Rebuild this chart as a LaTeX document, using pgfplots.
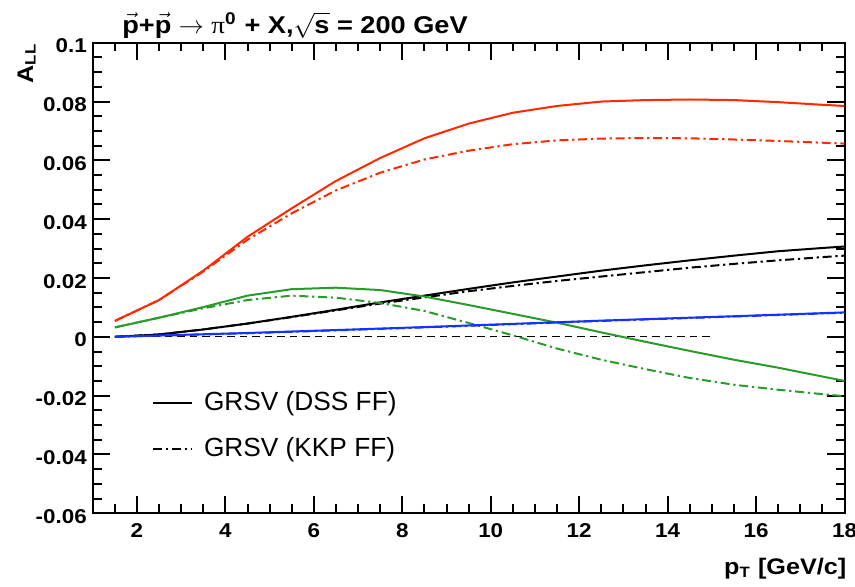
\documentclass[border=0pt]{standalone}
\usepackage{fontspec}
\setmainfont{Liberation Sans}
\newfontfamily\rootfont[FakeStretch=1.12]{Liberation Sans}
\newfontfamily\symfont[FakeStretch=1.12]{Liberation Serif}
\usepackage{pgfplots}
\pgfplotsset{compat=1.18}
\definecolor{cRed}{RGB}{255,40,0}
\definecolor{cGreen}{RGB}{40,155,40}
\definecolor{cBlue}{RGB}{20,50,255}
\tikzset{dashdot/.style={dash pattern=on 3.6pt off 1.5pt on 0.9pt off 1.5pt}}

\begin{document}
\begin{tikzpicture}
\begin{axis}[
    scale only axis,
    clip=false,
    width=300.7pt, height=188.2pt,
    xmin=1, xmax=18, ymin=-0.06, ymax=0.1,
    xtick={2,4,6,8,10,12,14,16,18},
    xticklabels={2,4,6,8,10,12,14,16,18},
    minor xtick={1.5,2.5,3,3.5,4.5,5,5.5,6.5,7,7.5,8.5,9,9.5,10.5,11,11.5,12.5,13,13.5,14.5,15,15.5,16.5,17,17.5},
    ytick={-0.06,-0.04,-0.02,0,0.02,0.04,0.06,0.08,0.1},
    yticklabels={-0.06,-0.04,-0.02,0,0.02,0.04,0.06,0.08,0.1},
    minor ytick={-0.055,-0.05,-0.045,-0.035,-0.03,-0.025,-0.015,-0.01,-0.005,0.005,0.01,0.015,0.025,0.03,0.035,0.045,0.05,0.055,0.065,0.07,0.075,0.085,0.09,0.095},
    major tick length=7pt, minor tick length=3.5pt,
    axis line style={line width=0.8pt},
    every tick/.style={black, line width=0.8pt},
    ticklabel style={font=\rootfont\fontsize{8}{9}\selectfont\bfseries, inner sep=0pt},
    xticklabel style={anchor=north, yshift=-3.8pt},
    yticklabel style={anchor=east, xshift=-2.2pt, yshift=-1.3pt},
    xlabel={p\textsubscript{T} [GeV/c]},
    xlabel style={at={(axis description cs:1.003,-0.131)}, anchor=base east, inner sep=0pt,
        font=\rootfont\fontsize{9}{11}\selectfont\bfseries},
    ylabel={A\textsubscript{LL}},
    ylabel style={at={(axis description cs:-0.088,1)}, anchor=east, inner sep=0pt,
        font=\rootfont\fontsize{9}{11}\selectfont\bfseries},
    legend style={at={(axis cs:2.33,-0.0183)}, anchor=north west, draw=none, fill=none,
        inner sep=0pt, nodes={inner sep=0pt},
        font=\fontsize{10.5}{12}\selectfont, row sep=9.5pt, column sep=4.4pt},
    legend cell align=left,
    legend image code/.code={\draw[#1] (0pt,0pt) -- (15.6pt,0pt);},
]
\coordinate (sw) at (rel axis cs:0,0);
\coordinate (ne) at (rel axis cs:1,1);
% legend entries (black)
\addplot[black, line width=0.8pt] coordinates {
    (1.5,0.0000)(2.5,0.0008)(3.5,0.0025)(4.5,0.0045)(5.5,0.0068)(6.5,0.0092)
    (7.5,0.0117)(8.5,0.0140)(9.5,0.0163)(10.5,0.0185)(11.5,0.0205)(12.5,0.0225)
    (13.5,0.0243)(14.5,0.0260)(15.5,0.0276)(16.5,0.0291)(17.5,0.0302)(18,0.0307)};
\addplot[black, line width=0.8pt, dashdot] coordinates {
    (1.5,0.0000)(2.5,0.0008)(3.5,0.0025)(4.5,0.0045)(5.5,0.0067)(6.5,0.0090)
    (7.5,0.0113)(8.5,0.0134)(9.5,0.0155)(10.5,0.0173)(11.5,0.0190)(12.5,0.0205)
    (13.5,0.0220)(14.5,0.0235)(15.5,0.0248)(16.5,0.0260)(17.5,0.0271)(18,0.0276)};
\legend{GRSV (DSS FF),GRSV (KKP FF)}
% zero line
\addplot[black, line width=0.4pt, dash pattern=on 3pt off 2pt, forget plot] coordinates {(1.5,0)(15,0)};
% red
\addplot[cRed, line width=0.8pt, forget plot] coordinates {
    (1.5,0.0054)(2.5,0.0125)(3.5,0.0225)(4.5,0.0340)(5.5,0.0437)(6.5,0.0530)
    (7.5,0.0608)(8.5,0.0675)(9.5,0.0725)(10.5,0.0762)(11.5,0.0785)(12.5,0.0800)
    (13.5,0.0805)(14.5,0.0807)(15.5,0.0805)(16.5,0.0798)(17.5,0.0789)(18,0.0785)};
\addplot[cRed, line width=0.8pt, dashdot, forget plot] coordinates {
    (1.5,0.0054)(2.5,0.0125)(3.5,0.0222)(4.5,0.0330)(5.5,0.0420)(6.5,0.0498)
    (7.5,0.0558)(8.5,0.0603)(9.5,0.0633)(10.5,0.0655)(11.5,0.0668)(12.5,0.0674)
    (13.5,0.0676)(14.5,0.0675)(15.5,0.0671)(16.5,0.0666)(17.5,0.0660)(18,0.0657)};
% green
\addplot[cGreen, line width=0.8pt, forget plot] coordinates {
    (1.5,0.0032)(2.5,0.0065)(3.5,0.0101)(4.5,0.0140)(5.5,0.0162)(6.5,0.0167)
    (7.5,0.0159)(8.5,0.0137)(9.5,0.0108)(10.5,0.0078)(11.5,0.0048)(12.5,0.0015)
    (13.5,-0.0017)(14.5,-0.0048)(15.5,-0.0078)(16.5,-0.0105)(17.5,-0.0135)(18,-0.0150)};
\addplot[cGreen, line width=0.8pt, dashdot, forget plot] coordinates {
    (1.5,0.0032)(2.5,0.0065)(3.5,0.0097)(4.5,0.0125)(5.5,0.0140)(6.5,0.0133)
    (7.5,0.0115)(8.5,0.0088)(9.5,0.0047)(10.5,0.0005)(11.5,-0.0040)(12.5,-0.0078)
    (13.5,-0.0110)(14.5,-0.0140)(15.5,-0.0163)(16.5,-0.0180)(17.5,-0.0195)(18,-0.0202)};
% blue
\addplot[cBlue, line width=0.8pt, forget plot] coordinates {
    (1.5,0.0000)(4.5,0.0013)(8.5,0.0033)(12.5,0.0055)(15.5,0.0070)(18,0.0083)};
\addplot[cBlue, line width=0.8pt, dashdot, forget plot] coordinates {
    (1.5,0.0000)(4.5,0.0012)(8.5,0.0032)(12.5,0.0054)(15.5,0.0069)(18,0.0082)};
\node[anchor=base west, inner sep=0pt, yshift=3.8pt,
      font=\rootfont\fontsize{9.7}{11}\selectfont\bfseries]
    at (axis description cs:0.0387,1)
    {$\vec{\hbox{\bfseries p}}$+$\vec{\hbox{\bfseries p}}$ $\rightarrow$ {\symfont\mdseries π}\textsuperscript{0} + X,$\sqrt{\hbox{\bfseries s}}$ = 200 GeV};
\end{axis}
\pgfresetboundingbox
\path ([xshift=-37.1pt,yshift=-29.5pt]sw) rectangle ([xshift=4.2pt,yshift=17.1pt]ne);
\end{tikzpicture}
\end{document}
